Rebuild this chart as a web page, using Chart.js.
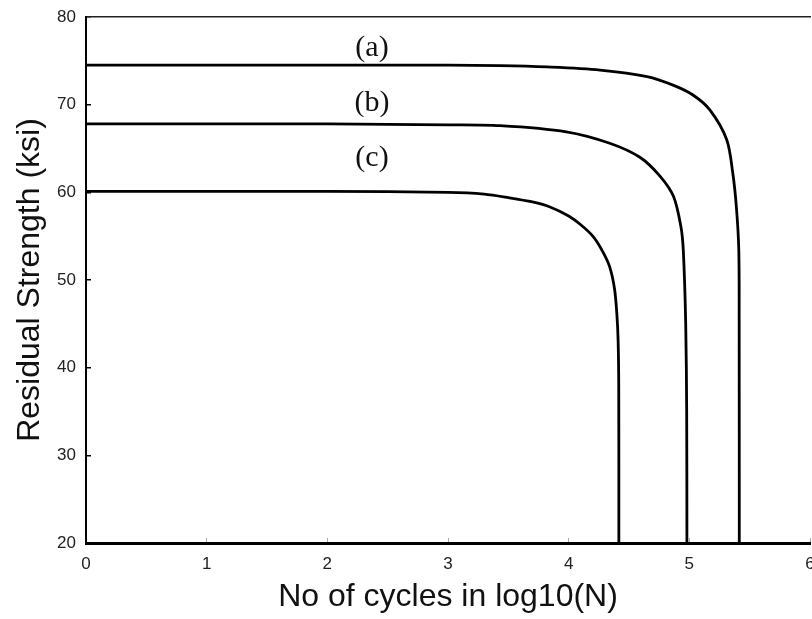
<!DOCTYPE html>
<html>
<head>
<meta charset="utf-8">
<title>Residual Strength</title>
<script src="https://cdn.jsdelivr.net/npm/chart.js@4.4.1/dist/chart.umd.min.js"></script>
<style>
  html, body { margin: 0; padding: 0; background: #fff; }
  #chart { display: block; }
</style>
</head>
<body>
<canvas id="chart" width="812" height="619"></canvas>
<script>
  // Residual strength vs. log10 of cycle count, three load cases
  const aCycles = [0, 1, 2, 3, 3.43, 3.82, 4.26, 4.65, 4.87, 5.03, 5.17, 5.31, 5.36, 5.39, 5.41, 5.413, 5.414];
  const aStrength = [74.5, 74.5, 74.5, 74.5, 74.45, 74.3, 73.95, 73.2, 72.2, 71.1, 69.4, 66.0, 62.2, 58.3, 53.4, 45, 20];

  const bCycles = [0, 1, 2, 2.5, 3, 3.43, 3.98, 4.34, 4.59, 4.76, 4.87, 4.93, 4.95, 4.97, 4.978, 4.98];
  const bStrength = [67.8, 67.8, 67.8, 67.75, 67.7, 67.6, 66.9, 65.6, 64.0, 61.8, 59.5, 56.1, 53.4, 45, 35, 20];

  const cCycles = [0, 1, 2, 3, 3.3, 3.5, 3.7, 3.85, 4.0, 4.1, 4.2, 4.28, 4.34, 4.38, 4.4, 4.41, 4.415, 4.416];
  const cStrength = [60.1, 60.1, 60.1, 60.0, 59.8, 59.4, 58.9, 58.3, 57.3, 56.3, 55.0, 53.3, 51.5, 49.0, 46.0, 43.0, 38.0, 20];

  // curve tags and where they sit (data units)
  const tagText = ['(a)', '(b)', '(c)'];
  const tagX = [2.37, 2.37, 2.37];
  const tagY = [76.45, 70.2, 63.9];

  const xTicks = [0, 1, 2, 3, 4, 5, 6];
  const yTicks = [20, 30, 40, 50, 60, 70, 80];

  function toPoints(xs, ys) {
    return xs.map((v, i) => ({ x: v, y: ys[i] }));
  }

  function curve(xs, ys) {
    return {
      data: toPoints(xs, ys),
      showLine: true,
      borderColor: '#000',
      borderWidth: 2.8,
      pointRadius: 0,
      tension: 0.3,
      fill: false
    };
  }

  // writes (a), (b), (c) above each curve
  const curveTags = {
    id: 'curveTags',
    afterDatasetsDraw(chart) {
      const ctx = chart.ctx;
      const x = chart.scales.x;
      const y = chart.scales.y;
      ctx.save();
      ctx.font = '30px "Liberation Serif", "Times New Roman", serif';
      ctx.fillStyle = '#111';
      ctx.textAlign = 'center';
      ctx.textBaseline = 'middle';
      tagText.forEach((t, i) => {
        ctx.fillText(t, x.getPixelForValue(tagX[i]), y.getPixelForValue(tagY[i]));
      });
      ctx.restore();
    }
  };

  const tickFont = { family: '"Liberation Sans Narrow", "Liberation Sans", Arial, sans-serif', size: 17 };
  const titleFont = { family: '"Liberation Sans", Arial, sans-serif', size: 32, lineHeight: 1.2 };

  new Chart(document.getElementById('chart'), {
    type: 'scatter',
    data: {
      datasets: [
        curve(aCycles, aStrength),
        curve(bCycles, bStrength),
        curve(cCycles, cStrength)
      ]
    },
    options: {
      responsive: false,
      animation: false,
      devicePixelRatio: 1,
      layout: { padding: { top: 17, right: 2, left: 0, bottom: 0 } },
      plugins: {
        legend: { display: false },
        tooltip: { enabled: false }
      },
      scales: {
        x: {
          type: 'linear',
          position: 'bottom',
          min: 0,
          max: 6,
          afterBuildTicks: s => { s.ticks = xTicks.map(v => ({ value: v })); },
          ticks: { font: tickFont, color: '#222', padding: 16, maxRotation: 0 },
          grid: { drawOnChartArea: false, tickLength: -5, color: '#aaa', lineWidth: 1 },
          border: { color: '#000', width: 3 },
          title: {
            display: true,
            text: 'No of cycles in log10(N)',
            font: titleFont,
            color: '#111',
            padding: { top: 0, bottom: 3 }
          },
          afterFit: s => { s.height = 76; s.paddingLeft = 0; s.paddingRight = 0; }
        },
        xTop: {
          type: 'linear',
          position: 'top',
          min: 0,
          max: 6,
          ticks: { display: false },
          grid: { display: false, drawTicks: false },
          border: { color: '#222', width: 1.5 },
          afterFit: s => { s.height = 0; s.paddingLeft = 0; s.paddingRight = 0; }
        },
        y: {
          type: 'linear',
          position: 'left',
          min: 20,
          max: 80,
          afterBuildTicks: s => { s.ticks = yTicks.map(v => ({ value: v })); },
          ticks: { font: tickFont, color: '#222', padding: 15 },
          grid: { drawOnChartArea: false, tickLength: -5, color: '#000', lineWidth: 1.5 },
          border: { color: '#000', width: 2 },
          title: {
            display: true,
            text: 'Residual Strength (ksi)',
            font: titleFont,
            color: '#111',
            padding: { top: 11, bottom: 0 }
          },
          afterFit: s => { s.width = 86; s.paddingTop = 0; s.paddingBottom = 0; }
        }
      }
    },
    plugins: [curveTags]
  });
</script>
</body>
</html>
